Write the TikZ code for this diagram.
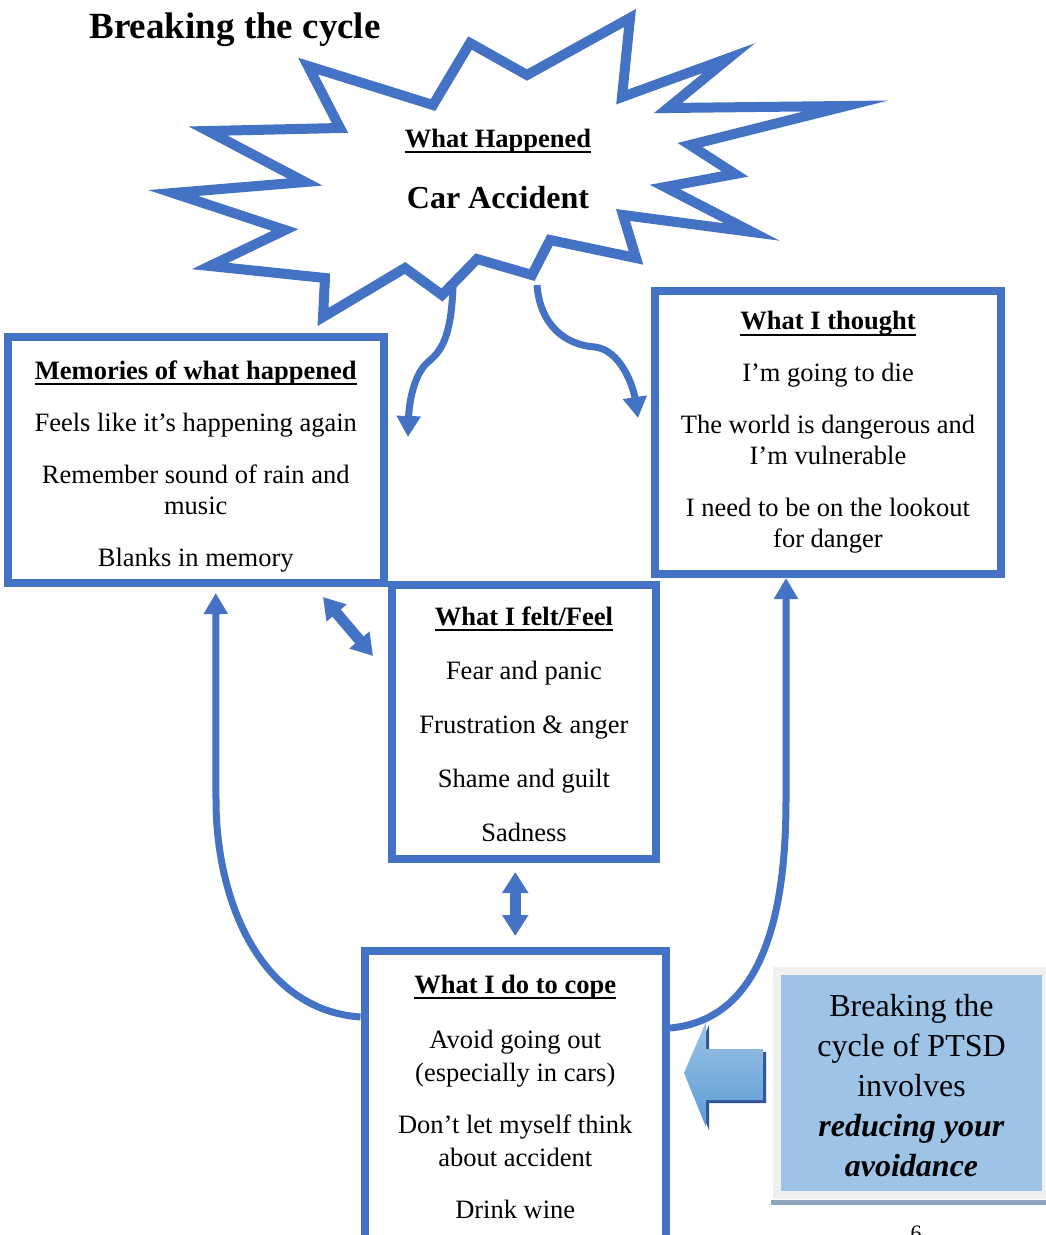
\documentclass[tikz,border=0pt]{standalone}
\usepackage{fontspec}
\setmainfont{Liberation Serif}
\usetikzlibrary{arrows.meta,positioning,calc}
\definecolor{wordblue}{HTML}{4472C4}
\definecolor{tipblue}{HTML}{9DC3E6}
\definecolor{arrowblue}{HTML}{5B9BD5}
\definecolor{arrowdark}{HTML}{2F5597}
\definecolor{framegray}{HTML}{F0F0F0}
\definecolor{shadowgray}{HTML}{8EA3BC}
\newcommand{\hdul}[1]{\leavevmode\setbox0\hbox{\textbf{#1}}\rlap{\rule[-6pt]{\wd0}{2.3pt}}\box0}

\begin{document}
\begin{tikzpicture}[x=1pt,y=-1pt,
    box/.style={draw=wordblue, line width=8pt, align=center, inner sep=0pt,
        font=\fontsize{26.5}{31}\selectfont},
    loop/.style={draw=wordblue, line width=7pt, -{Triangle[width=23pt,length=21pt]}},
    dbl/.style={draw=wordblue, line width=11pt,
        {Triangle[width=25pt,length=21pt]}-{Triangle[width=25pt,length=21pt]}}]
\clip (0,0) rectangle (1046,1235);

% title
\node[anchor=base west, font=\fontsize{37}{40}\selectfont\bfseries] (title) at (86,38) {Breaking the cycle};

% the four boxes
\node[box, minimum width=376.5pt, minimum height=246pt] (memories) at (195.75,460)
    {\rule{0pt}{31pt}\hdul{Memories of what happened}\\[21pt]
     Feels like it’s happening again\\[21pt]
     Remember sound of rain and\\ music\\[21pt]
     Blanks in memory};
\node[box, minimum width=346pt, minimum height=283pt] (thought) at (828,432.5)
    {\hdul{What I thought}\\[21pt]
     I’m going to die\\[21pt]
     The world is dangerous and\\ I’m vulnerable\\[21pt]
     I need to be on the lookout\\ for danger};
\node[box, minimum width=264pt, minimum height=274pt] (felt) at (524,722)
    {\rule{0pt}{23pt}\hdul{What I felt/Feel}\\[23pt]
     Fear and panic\\[23pt]
     Frustration \& anger\\[23pt]
     Shame and guilt\\[23pt]
     Sadness};
\node[box, minimum width=301.5pt, minimum height=291pt] (cope) at (515.25,1096.5)
    {\hdul{What I do to cope}\\[24pt]
     Avoid going out\\[2pt] (especially in cars)\\[21pt]
     Don’t let myself think\\[2pt] about accident\\[21pt]
     Drink wine};

% arrows out of the star
\coordinate (sl) at (453,287);
\coordinate (sr) at (537,285);
\coordinate (memtip) at (408,437);
\coordinate (thtip) at (638,418);
\draw[loop] (sl) .. controls (451,340) and (440,352) .. (428,362)
    .. controls (413,375) and (409,405) .. (memtip);
\draw[loop] (sr) .. controls (540,325) and (565,345) .. (595,347)
    .. controls (620,350) and (633,385) .. (thtip);

% the star
\draw[wordblue, line width=10pt, miter limit=30, fill=white]
    (630,18) -- (622,97) -- (729,58) -- (668,108) -- (846,106) -- (690,145)
    -- (735,174) -- (665,187) -- (752,232) -- (623,215) -- (636,258)
    -- (550,240) -- (532,275) -- (477,259) -- (442,295) -- (405,268)
    -- (323,317) -- (325,278) -- (210,266) -- (285,230) -- (173,193)
    -- (305,182) -- (208,131) -- (340,128) -- (308,66) -- (433,105)
    -- (470,43) -- (527,75) -- cycle;
\node[font=\fontsize{26.5}{31}\selectfont] (happened) at (498,141) {\hdul{What Happened}};
\node[font=\fontsize{32}{36}\selectfont\bfseries] (accident) at (498,198) {Car Accident};

% the cycle
\draw[loop] ([yshift=-70pt]cope.north west) .. controls (260,1010) and (216,900) .. (216,800)
    -- ([xshift=20pt,yshift=-6pt]memories.south);
\draw[loop] ([yshift=-81pt]cope.north east) .. controls (760,1020) and (786,920) .. (786,800)
    -- ([xshift=-42pt]thought.south);
\draw[dbl] ([xshift=-65pt,yshift=-10pt]memories.south east) -- ([xshift=-15pt,yshift=-75pt]felt.north west);
\draw[dbl] ($(felt.south -| cope.north)+(0,9)$) -- ($(cope.north)+(0,-11)$);

% the tip box
\node[draw=framegray, line width=8pt, fill=tipblue, minimum width=269pt, minimum height=224pt,
    align=center, inner sep=0pt, font=\fontsize{32}{40}\selectfont] (tip) at (911.5,1083)
    {\rule{0pt}{27pt}Breaking the\\ cycle of PTSD\\ involves\\ \textbf{\textit{reducing your}}\\ \textbf{\textit{avoidance}}};
\fill[shadowgray] ($(tip.south west)+(-2,1)$) rectangle ($(tip.south east)+(6,6)$);

% big arrow towards the coping box
\fill[arrowdark] (687,1076) -- (709,1025) -- (709,1052) -- (766,1052) -- (766,1103)
    -- (709,1103) -- (709,1130) -- cycle;
\shade[top color=tipblue, bottom color=arrowblue] (684,1073) -- (706,1022) -- (706,1049)
    -- (763,1049) -- (763,1100) -- (706,1100) -- (706,1127) -- cycle;

\node[anchor=base, font=\fontsize{22}{24}\selectfont] (pagenum) at (916,1240) {6};
\end{tikzpicture}
\end{document}
